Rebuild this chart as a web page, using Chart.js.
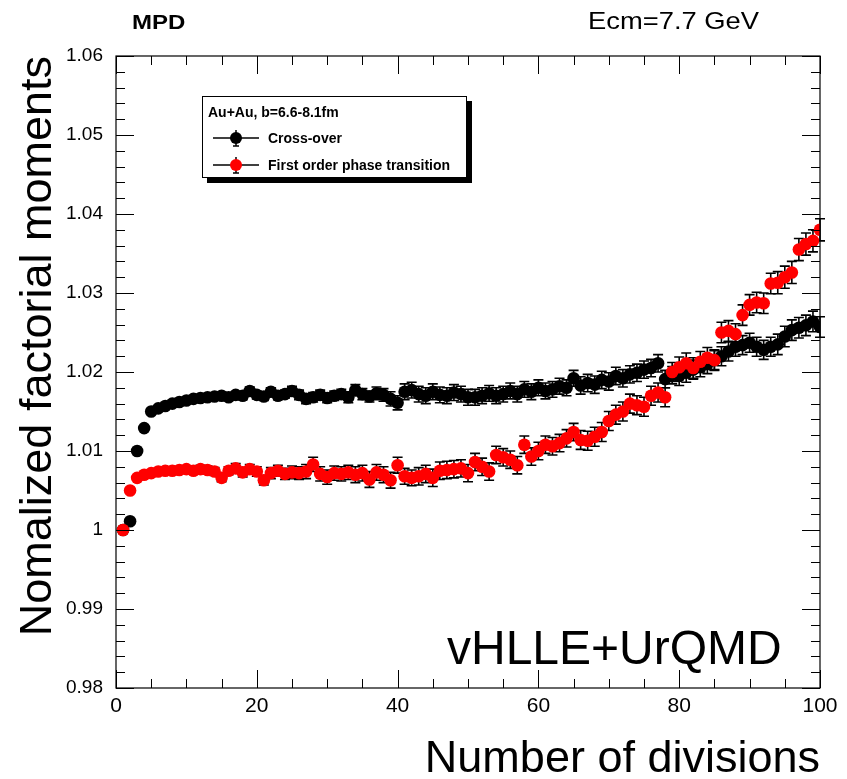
<!DOCTYPE html>
<html>
<head>
<meta charset="utf-8">
<script src="https://cdn.jsdelivr.net/npm/chart.js@4.4.1/dist/chart.umd.min.js"></script>
<style>
  body { margin: 0; background: #fff; }
  #wrap { position: relative; width: 847px; height: 779px; font-family: "Liberation Sans", Arial, sans-serif; }
  #wrap canvas { position: absolute; left: 0; top: 0; }
  .txt { position: absolute; white-space: nowrap; line-height: 1; color: #000; transform-origin: 0 0; }
  #legend { position: absolute; left: 202px; top: 96px; width: 263px; height: 80px; border: 1px solid #000; background: #fff; box-shadow: 5px 5px 0 #000; }
</style>
</head>
<body>
<div id="wrap">
  <canvas id="grafico" width="847" height="779"></canvas>
  <div class="txt" style="left:132px; top:12px; font-size:20px; font-weight:bold; transform:scaleX(1.2);">MPD</div>
  <div class="txt" style="left:588px; top:9px; font-size:24px; transform:scaleX(1.14);">Ecm=7.7 GeV</div>
  <div class="txt" style="left:447px; top:624px; font-size:48px;">vHLLE+UrQMD</div>
  <div id="legend">
    <div class="txt" style="left:5px; top:8px; font-size:14px; font-weight:bold;">Au+Au, b=6.6-8.1fm</div>
    <svg style="position:absolute; left:8px; top:30px;" width="50" height="22">
      <line x1="2" y1="11" x2="48" y2="11" stroke="#000" stroke-width="1.4"/>
      <line x1="25" y1="3" x2="25" y2="19" stroke="#000" stroke-width="1.5"/>
      <line x1="22" y1="19" x2="28" y2="19" stroke="#000" stroke-width="1.5"/>
      <circle cx="25" cy="11" r="6" fill="#000"/>
    </svg>
    <div class="txt" style="left:65px; top:34px; font-size:14px; font-weight:bold;">Cross-over</div>
    <svg style="position:absolute; left:8px; top:57px;" width="50" height="22">
      <line x1="2" y1="11" x2="48" y2="11" stroke="#000" stroke-width="1.4"/>
      <line x1="25" y1="3" x2="25" y2="19" stroke="#000" stroke-width="1.5"/>
      <line x1="22" y1="19" x2="28" y2="19" stroke="#000" stroke-width="1.5"/>
      <circle cx="25" cy="11" r="6" fill="#ff0000"/>
    </svg>
    <div class="txt" style="left:65px; top:61px; font-size:14px; font-weight:bold;">First order phase transition</div>
  </div>
</div>
<script>
const divisoes = [];
for (let i = 1; i <= 100; i++) divisoes.push(i);

const crossOver = [
  1.0000, 1.0011, 1.0100, 1.0129, 1.0150, 1.0154, 1.0157, 1.0160, 1.0162, 1.0164,
  1.0166, 1.0167, 1.0168, 1.0169, 1.0170, 1.0168, 1.0171, 1.0170, 1.0176, 1.0171,
  1.0169, 1.0175, 1.0170, 1.0172, 1.0176, 1.0171, 1.0166, 1.0168, 1.0171, 1.0167,
  1.0170, 1.0172, 1.0168, 1.0177, 1.0172, 1.0169, 1.0173, 1.0171, 1.0166, 1.0161,
  1.0175, 1.0177, 1.0172, 1.0170, 1.0175, 1.0171, 1.0170, 1.0174, 1.0172, 1.0168,
  1.0168, 1.0170, 1.0173, 1.0170, 1.0172, 1.0176, 1.0172, 1.0178, 1.0175, 1.0180,
  1.0176, 1.0178, 1.0182, 1.0180, 1.0192, 1.0183, 1.0186, 1.0184, 1.0190, 1.0188,
  1.0195, 1.0192, 1.0197, 1.0199, 1.0203, 1.0205, 1.0211, 1.0191, 1.0196, 1.0195,
  1.0199, 1.0203, 1.0206, 1.0210, 1.0215, 1.0220, 1.0226, 1.0232, 1.0234, 1.0237,
  1.0232, 1.0228, 1.0232, 1.0235, 1.0245, 1.0253, 1.0256, 1.0259, 1.0264, 1.0257
];
const crossOverErr = [
  0.0000, 0.0001, 0.0001, 0.0002, 0.0002, 0.0002, 0.0003, 0.0003, 0.0003, 0.0003,
  0.0003, 0.0004, 0.0004, 0.0004, 0.0004, 0.0004, 0.0004, 0.0005, 0.0005, 0.0005,
  0.0005, 0.0005, 0.0005, 0.0005, 0.0006, 0.0006, 0.0006, 0.0006, 0.0006, 0.0006,
  0.0006, 0.0006, 0.0007, 0.0007, 0.0007, 0.0007, 0.0008, 0.0008, 0.0009, 0.0009,
  0.0010, 0.0010, 0.0010, 0.0010, 0.0010, 0.0010, 0.0010, 0.0010, 0.0010, 0.0010,
  0.0010, 0.0010, 0.0010, 0.0010, 0.0010, 0.0010, 0.0010, 0.0010, 0.0010, 0.0010,
  0.0010, 0.0010, 0.0010, 0.0010, 0.0010, 0.0011, 0.0011, 0.0011, 0.0011, 0.0011,
  0.0011, 0.0011, 0.0011, 0.0011, 0.0011, 0.0011, 0.0011, 0.0011, 0.0011, 0.0012,
  0.0012, 0.0012, 0.0012, 0.0012, 0.0012, 0.0012, 0.0012, 0.0012, 0.0012, 0.0012,
  0.0012, 0.0012, 0.0012, 0.0013, 0.0013, 0.0013, 0.0013, 0.0013, 0.0013, 0.0013
];

const primeiraOrdem = [
  1.0000, 1.0050, 1.0066, 1.0070, 1.0072, 1.0074, 1.0075, 1.0075, 1.0076, 1.0077,
  1.0075, 1.0077, 1.0076, 1.0074, 1.0066, 1.0075, 1.0078, 1.0073, 1.0077, 1.0074,
  1.0063, 1.0072, 1.0075, 1.0071, 1.0073, 1.0072, 1.0074, 1.0083, 1.0071, 1.0067,
  1.0072, 1.0071, 1.0073, 1.0070, 1.0072, 1.0064, 1.0073, 1.0070, 1.0063, 1.0082,
  1.0068, 1.0066, 1.0068, 1.0071, 1.0066, 1.0075, 1.0076, 1.0077, 1.0078, 1.0072,
  1.0086, 1.0080, 1.0074, 1.0095, 1.0092, 1.0089, 1.0082, 1.0108, 1.0093, 1.0100,
  1.0108, 1.0106, 1.0110, 1.0116, 1.0124, 1.0114, 1.0113, 1.0118, 1.0124, 1.0138,
  1.0146, 1.0150, 1.0160, 1.0158, 1.0156, 1.0170, 1.0174, 1.0168, 1.0200, 1.0206,
  1.0211, 1.0205, 1.0213, 1.0218, 1.0215, 1.0250, 1.0252, 1.0248, 1.0272, 1.0285,
  1.0288, 1.0287, 1.0312, 1.0313, 1.0320, 1.0326, 1.0355, 1.0362, 1.0366, 1.0380
];
const primeiraOrdemErr = [
  0.0000, 0.0001, 0.0002, 0.0002, 0.0003, 0.0003, 0.0003, 0.0004, 0.0004, 0.0004,
  0.0004, 0.0005, 0.0005, 0.0005, 0.0005, 0.0005, 0.0006, 0.0006, 0.0006, 0.0006,
  0.0006, 0.0007, 0.0007, 0.0007, 0.0008, 0.0008, 0.0009, 0.0009, 0.0009, 0.0009,
  0.0009, 0.0009, 0.0009, 0.0010, 0.0010, 0.0010, 0.0010, 0.0010, 0.0010, 0.0010,
  0.0010, 0.0010, 0.0011, 0.0011, 0.0011, 0.0011, 0.0011, 0.0011, 0.0011, 0.0011,
  0.0011, 0.0011, 0.0011, 0.0011, 0.0011, 0.0011, 0.0011, 0.0011, 0.0011, 0.0011,
  0.0011, 0.0011, 0.0011, 0.0011, 0.0011, 0.0012, 0.0012, 0.0012, 0.0012, 0.0012,
  0.0012, 0.0012, 0.0012, 0.0012, 0.0012, 0.0012, 0.0012, 0.0012, 0.0012, 0.0013,
  0.0013, 0.0013, 0.0013, 0.0013, 0.0013, 0.0013, 0.0013, 0.0013, 0.0013, 0.0013,
  0.0013, 0.0013, 0.0013, 0.0014, 0.0014, 0.0014, 0.0014, 0.0014, 0.0014, 0.0014
];

const xTicks = [0, 20, 40, 60, 80, 100];
const xTickLabels = ["0", "20", "40", "60", "80", "100"];
const yTicks = [0.98, 0.99, 1.00, 1.01, 1.02, 1.03, 1.04, 1.05, 1.06];
const yTickLabels = ["0.98", "0.99", "1", "1.01", "1.02", "1.03", "1.04", "1.05", "1.06"];

const fonte = "'Liberation Sans', Arial, sans-serif";

// barras de erro (ROOT style, desenhadas antes dos marcadores)
const barrasErro = {
    id: "barrasErro",
    beforeDatasetsDraw(chart) {
        const ctx = chart.ctx;
        const y = chart.scales.y;
        ctx.save();
        ctx.strokeStyle = "#000";
        ctx.lineWidth = 1.6;
        chart.data.datasets.forEach((ds, di) => {
            const meta = chart.getDatasetMeta(di);
            meta.data.forEach((pt, i) => {
                const e = ds.erros[i];
                if (!e) return;
                const y0 = y.getPixelForValue(ds.data[i].y - e);
                const y1 = y.getPixelForValue(ds.data[i].y + e);
                ctx.beginPath();
                ctx.moveTo(pt.x, y0); ctx.lineTo(pt.x, y1);
                ctx.moveTo(pt.x - 5, y0); ctx.lineTo(pt.x + 5, y0);
                ctx.moveTo(pt.x - 5, y1); ctx.lineTo(pt.x + 5, y1);
                ctx.stroke();
            });
        });
        ctx.restore();
    }
};

// moldura e ticks para dentro, nos quatro lados
const moldura = {
    id: "moldura",
    afterDraw(chart) {
        const ctx = chart.ctx;
        const a = chart.chartArea;
        const xs = chart.scales.x, ys = chart.scales.y;
        ctx.save();
        ctx.strokeStyle = "#000";
        ctx.lineWidth = 1.2;
        ctx.strokeRect(a.left, a.top, a.right - a.left, a.bottom - a.top);
        ctx.lineWidth = 1;
        ctx.beginPath();
        for (let v = 0; v <= 100; v += 5) {
            const px = Math.round(xs.getPixelForValue(v)) + 0.5;
            const len = v % 20 === 0 ? 18 : 9;
            ctx.moveTo(px, a.bottom); ctx.lineTo(px, a.bottom - len);
            ctx.moveTo(px, a.top); ctx.lineTo(px, a.top + len);
        }
        for (let k = 0; k <= 40; k++) {
            const v = 0.98 + k * 0.002;
            const py = Math.round(ys.getPixelForValue(v)) + 0.5;
            const len = k % 5 === 0 ? 18 : 9;
            ctx.moveTo(a.left, py); ctx.lineTo(a.left + len, py);
            ctx.moveTo(a.right, py); ctx.lineTo(a.right - len, py);
        }
        ctx.stroke();
        ctx.restore();
    }
};

new Chart(document.getElementById("grafico"), {
    type: "scatter",
    data: {
        datasets: [
            {
                label: "First order phase transition",
                data: divisoes.map((d, i) => ({ x: d, y: primeiraOrdem[i] })),
                erros: primeiraOrdemErr,
                backgroundColor: "#ff0000",
                borderWidth: 0,
                pointRadius: 6.3
            },
            {
                label: "Cross-over",
                data: divisoes.map((d, i) => ({ x: d, y: crossOver[i] })),
                erros: crossOverErr,
                backgroundColor: "#000000",
                borderWidth: 0,
                pointRadius: 6.3
            }
        ]
    },
    options: {
        responsive: false,
        animation: false,
        layout: { padding: { top: 56, right: 27, left: 0, bottom: 0 } },
        plugins: { legend: { display: false }, tooltip: { enabled: false } },
        scales: {
            x: {
                type: "linear",
                min: 0,
                max: 100,
                afterBuildTicks: s => { s.ticks = xTicks.map(v => ({ value: v })); },
                afterFit: s => { s.height = 91; },
                grid: { display: false, drawTicks: false },
                border: { display: false },
                ticks: {
                    autoSkip: false,
                    maxRotation: 0,
                    padding: 6,
                    color: "#000",
                    font: { family: fonte, size: 21 },
                    callback: (v, i) => xTickLabels[i]
                },
                title: {
                    display: true,
                    text: "Number of divisions",
                    align: "end",
                    color: "#000",
                    font: { family: fonte, size: 45, lineHeight: 1 },
                    padding: { top: 0, bottom: -3 }
                }
            },
            y: {
                min: 0.98,
                max: 1.06,
                afterBuildTicks: s => { s.ticks = yTicks.map(v => ({ value: v })); },
                afterFit: s => { s.width = 116; },
                grid: { display: false, drawTicks: false },
                border: { display: false },
                ticks: {
                    padding: 13,
                    color: "#000",
                    font: { family: fonte, size: 19 },
                    callback: (v, i) => yTickLabels[i]
                },
                title: {
                    display: true,
                    text: "Nomalized factorial moments",
                    align: "end",
                    color: "#000",
                    font: { family: fonte, size: 45, lineHeight: 1 },
                    padding: { top: 16, bottom: 0 }
                }
            }
        }
    },
    plugins: [barrasErro, moldura]
});
</script>
</body>
</html>
